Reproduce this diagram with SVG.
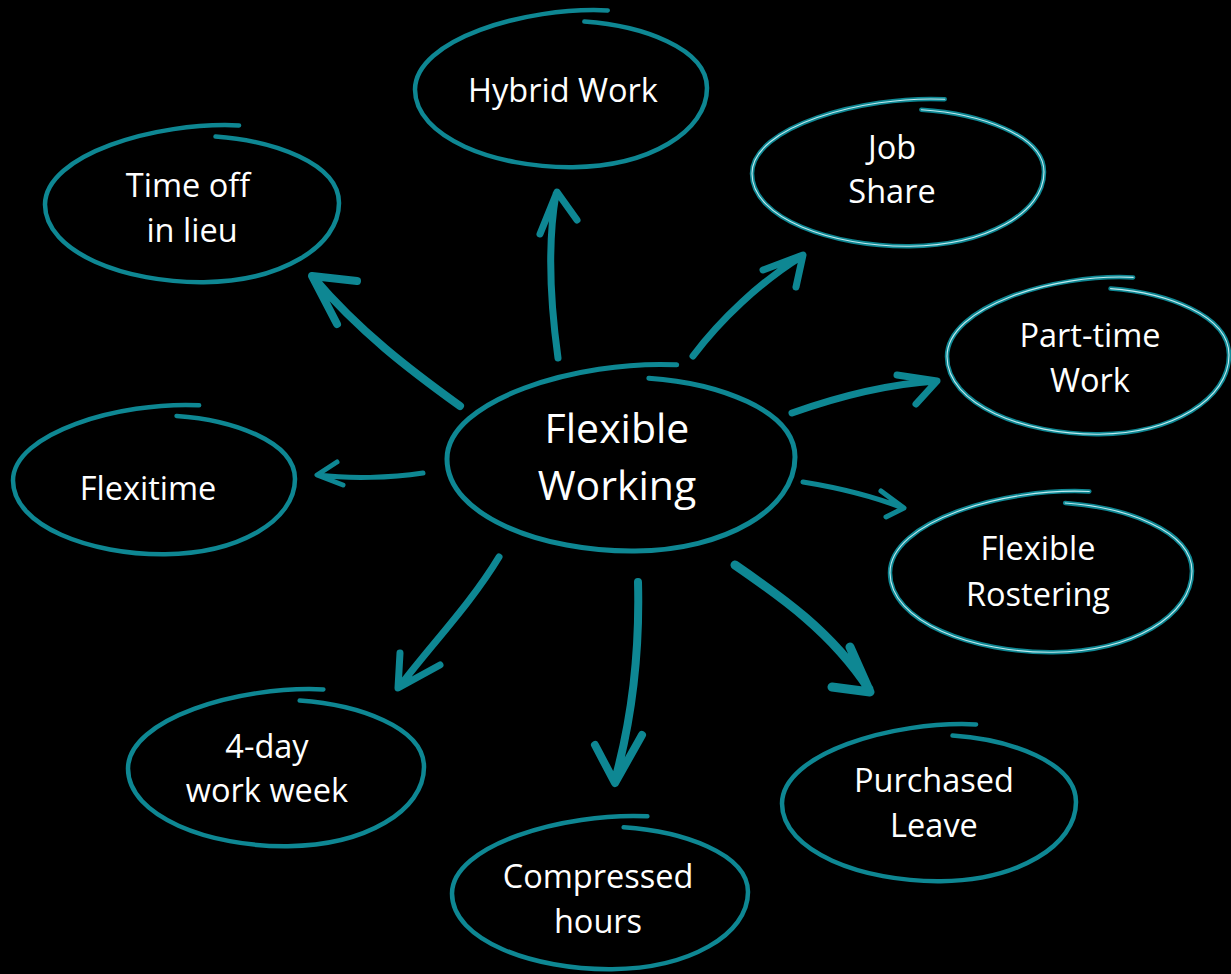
<svg xmlns="http://www.w3.org/2000/svg" width="1231" height="974" viewBox="0 0 1231 974">
<style>
.loop{fill:none;stroke:#0E8793;stroke-width:4.5;stroke-linecap:round;vector-effect:non-scaling-stroke}
.loopc{fill:none;stroke:#0E8793;stroke-width:5;stroke-linecap:round;vector-effect:non-scaling-stroke}
.hl{fill:none;stroke:#bfe9ee;stroke-width:1.1;stroke-linecap:round;vector-effect:non-scaling-stroke}
.arr{fill:none;stroke:#0E8793;stroke-linecap:round;stroke-linejoin:round}
.t{fill:#ffffff;font-family:"Open Sans","Noto Sans",sans-serif;font-size:32.5px;text-anchor:middle}
.tc{fill:#ffffff;font-family:"Open Sans","Noto Sans",sans-serif;font-size:41px;text-anchor:middle}
</style>
<rect width="1231" height="974" fill="#000"/>
<g id="connectors">
<path class="arr" stroke-width="7" d="M 558,358 C 550,300 548,240 556,194 M 540,234 L 557,192 L 577,220"/>
<path class="arr" stroke-width="7" d="M 693,356 C 720,320 760,282 802,256 M 763,270 L 803,255 L 796,287"/>
<path class="arr" stroke-width="7" d="M 792,413 C 840,396 890,384 936,381 M 897,375 L 937,381 L 916,404"/>
<path class="arr" stroke-width="5" d="M 803,482 C 840,488 875,497 903,508 M 881,491 L 904,508 L 886,517"/>
<path class="arr" stroke-width="9" d="M 735,565 C 780,596 832,632 869,689 M 850,647 L 870,692 L 832,687"/>
<path class="arr" stroke-width="8" d="M 638,582 C 640,660 631,722 615,780 M 595,745 L 615,783 L 642,735"/>
<path class="arr" stroke-width="7" d="M 499,557 C 470,605 430,646 400,686 M 400,653 L 398,688 L 440,665"/>
<path class="arr" stroke-width="5" d="M 423,473 C 390,478 350,479 318,475 M 337,462 L 317,475 L 343,485"/>
<path class="arr" stroke-width="8" d="M 460,406 C 410,370 360,332 313,277 M 357,281 L 312,276 L 337,324"/>
</g>
<g id="n-center">
<path class="loopc" transform="translate(621,457) scale(174,95)" d="M 0.32,-0.97 C -0.25,-1.02 -1.0,-0.6 -1.0,0.02 C -1.0,0.62 -0.45,1.0 0.08,0.99 C 0.6,0.98 1.0,0.55 1.0,0.0 C 1.0,-0.5 0.55,-0.78 0.16,-0.83"/>
<text class="tc" x="617" y="443">Flexible</text>
<text class="tc" x="617" y="500">Working</text>
</g>
<g id="n-hybrid">
<path class="loop" transform="translate(561,88) scale(146,80)" d="M 0.32,-0.97 C -0.25,-1.02 -1.0,-0.6 -1.0,0.02 C -1.0,0.62 -0.45,1.0 0.08,0.99 C 0.6,0.98 1.0,0.55 1.0,0.0 C 1.0,-0.5 0.55,-0.78 0.16,-0.83"/>
<text class="t" x="563" y="102">Hybrid Work</text>
</g>
<g id="n-timeoff">
<path class="loop" transform="translate(192,203) scale(147,80)" d="M 0.32,-0.97 C -0.25,-1.02 -1.0,-0.6 -1.0,0.02 C -1.0,0.62 -0.45,1.0 0.08,0.99 C 0.6,0.98 1.0,0.55 1.0,0.0 C 1.0,-0.5 0.55,-0.78 0.16,-0.83"/>
<text class="t" x="188" y="197">Time off</text>
<text class="t" x="192" y="242">in lieu</text>
</g>
<g id="n-jobshare">
<path class="loop" transform="translate(898,172) scale(146,75)" d="M 0.32,-0.97 C -0.25,-1.02 -1.0,-0.6 -1.0,0.02 C -1.0,0.62 -0.45,1.0 0.08,0.99 C 0.6,0.98 1.0,0.55 1.0,0.0 C 1.0,-0.5 0.55,-0.78 0.16,-0.83"/>
<path class="hl" transform="translate(898,172) scale(146,75)" d="M 0.32,-0.97 C -0.25,-1.02 -1.0,-0.6 -1.0,0.02 C -1.0,0.62 -0.45,1.0 0.08,0.99 C 0.6,0.98 1.0,0.55 1.0,0.0 C 1.0,-0.5 0.55,-0.78 0.16,-0.83"/>
<text class="t" x="892" y="159">Job</text>
<text class="t" x="892" y="203">Share</text>
</g>
<g id="n-parttime">
<path class="loop" transform="translate(1088,355) scale(141,80)" d="M 0.32,-0.97 C -0.25,-1.02 -1.0,-0.6 -1.0,0.02 C -1.0,0.62 -0.45,1.0 0.08,0.99 C 0.6,0.98 1.0,0.55 1.0,0.0 C 1.0,-0.5 0.55,-0.78 0.16,-0.83"/>
<path class="hl" transform="translate(1088,355) scale(141,80)" d="M 0.32,-0.97 C -0.25,-1.02 -1.0,-0.6 -1.0,0.02 C -1.0,0.62 -0.45,1.0 0.08,0.99 C 0.6,0.98 1.0,0.55 1.0,0.0 C 1.0,-0.5 0.55,-0.78 0.16,-0.83"/>
<text class="t" x="1090" y="347">Part-time</text>
<text class="t" x="1090" y="392">Work</text>
</g>
<g id="n-rostering">
<path class="loop" transform="translate(1041,571) scale(151,82)" d="M 0.32,-0.97 C -0.25,-1.02 -1.0,-0.6 -1.0,0.02 C -1.0,0.62 -0.45,1.0 0.08,0.99 C 0.6,0.98 1.0,0.55 1.0,0.0 C 1.0,-0.5 0.55,-0.78 0.16,-0.83"/>
<path class="hl" transform="translate(1041,571) scale(151,82)" d="M 0.32,-0.97 C -0.25,-1.02 -1.0,-0.6 -1.0,0.02 C -1.0,0.62 -0.45,1.0 0.08,0.99 C 0.6,0.98 1.0,0.55 1.0,0.0 C 1.0,-0.5 0.55,-0.78 0.16,-0.83"/>
<text class="t" x="1038" y="560">Flexible</text>
<text class="t" x="1038" y="606">Rostering</text>
</g>
<g id="n-purchased">
<path class="loop" transform="translate(929,802) scale(147,80)" d="M 0.32,-0.97 C -0.25,-1.02 -1.0,-0.6 -1.0,0.02 C -1.0,0.62 -0.45,1.0 0.08,0.99 C 0.6,0.98 1.0,0.55 1.0,0.0 C 1.0,-0.5 0.55,-0.78 0.16,-0.83"/>
<text class="t" x="934" y="792">Purchased</text>
<text class="t" x="934" y="837">Leave</text>
</g>
<g id="n-compressed">
<path class="loop" transform="translate(600,892) scale(148,78)" d="M 0.32,-0.97 C -0.25,-1.02 -1.0,-0.6 -1.0,0.02 C -1.0,0.62 -0.45,1.0 0.08,0.99 C 0.6,0.98 1.0,0.55 1.0,0.0 C 1.0,-0.5 0.55,-0.78 0.16,-0.83"/>
<text class="t" x="598" y="888">Compressed</text>
<text class="t" x="598" y="933">hours</text>
</g>
<g id="n-fourday">
<path class="loop" transform="translate(276,767) scale(148,80)" d="M 0.32,-0.97 C -0.25,-1.02 -1.0,-0.6 -1.0,0.02 C -1.0,0.62 -0.45,1.0 0.08,0.99 C 0.6,0.98 1.0,0.55 1.0,0.0 C 1.0,-0.5 0.55,-0.78 0.16,-0.83"/>
<text class="t" x="267" y="758">4-day</text>
<text class="t" x="267" y="802">work week</text>
</g>
<g id="n-flexitime">
<path class="loop" transform="translate(154,479) scale(141,76)" d="M 0.32,-0.97 C -0.25,-1.02 -1.0,-0.6 -1.0,0.02 C -1.0,0.62 -0.45,1.0 0.08,0.99 C 0.6,0.98 1.0,0.55 1.0,0.0 C 1.0,-0.5 0.55,-0.78 0.16,-0.83"/>
<text class="t" x="148" y="500">Flexitime</text>
</g>
</svg>
